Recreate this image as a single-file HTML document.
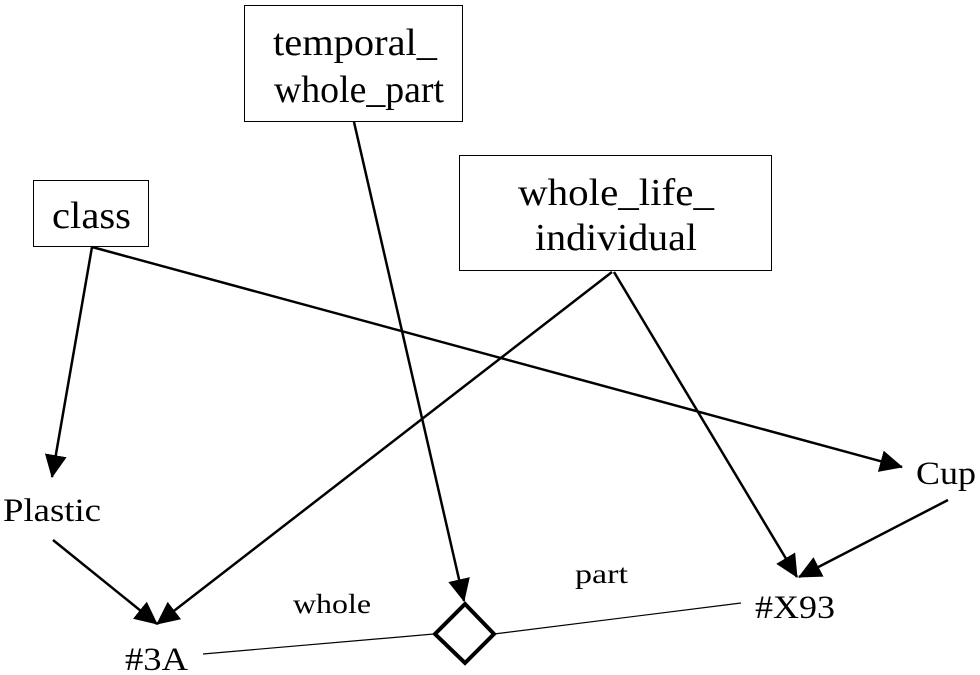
<!DOCTYPE html>
<html><head><style>
html,body{margin:0;padding:0;background:#fff;}
svg{display:block;}
text{font-family:"Liberation Serif",serif;fill:#000;}
</style></head><body>
<svg width="980" height="675" viewBox="0 0 980 675" xmlns="http://www.w3.org/2000/svg">
<defs>
<marker id="a" markerWidth="24" markerHeight="22" refX="22" refY="11" orient="auto" markerUnits="userSpaceOnUse">
<path d="M0,0 L23,11 L0,22 Z" fill="#000"/>
</marker>
</defs>
<rect x="244.5" y="5.5" width="218" height="116" fill="none" stroke="#000" stroke-width="1"/>
<text x="273" y="55" font-size="38" textLength="164" lengthAdjust="spacingAndGlyphs">temporal_</text>
<text x="274" y="102" font-size="38" textLength="170" lengthAdjust="spacingAndGlyphs">whole_part</text>
<rect x="33.5" y="180.5" width="115" height="66" fill="none" stroke="#000" stroke-width="1"/>
<text x="52" y="228" font-size="38" textLength="79" lengthAdjust="spacingAndGlyphs">class</text>
<rect x="459.5" y="155.5" width="312" height="115" fill="none" stroke="#000" stroke-width="1"/>
<text x="518" y="205" font-size="38" textLength="196" lengthAdjust="spacingAndGlyphs">whole_life_</text>
<text x="535" y="250" font-size="38" textLength="162" lengthAdjust="spacingAndGlyphs">individual</text>
<text x="3" y="521" font-size="33" textLength="98" lengthAdjust="spacingAndGlyphs">Plastic</text>
<text x="916" y="484" font-size="33" textLength="60" lengthAdjust="spacingAndGlyphs">Cup</text>
<text x="125" y="670" font-size="33" textLength="63" lengthAdjust="spacingAndGlyphs">#3A</text>
<text x="755" y="618" font-size="33" textLength="80" lengthAdjust="spacingAndGlyphs">#X93</text>
<text x="293" y="613" font-size="27" textLength="78" lengthAdjust="spacingAndGlyphs">whole</text>
<text x="575" y="583" font-size="27" textLength="53" lengthAdjust="spacingAndGlyphs">part</text>
<g stroke="#000" stroke-width="2.5" fill="none">
<line x1="92" y1="247" x2="52" y2="477" marker-end="url(#a)"/>
<line x1="92" y1="247" x2="902" y2="467" marker-end="url(#a)"/>
<line x1="612" y1="272" x2="157" y2="624" marker-end="url(#a)"/>
<line x1="614" y1="272" x2="797" y2="577" marker-end="url(#a)"/>
<line x1="354" y1="122" x2="464" y2="601" marker-end="url(#a)"/>
<line x1="53" y1="540" x2="157" y2="624" marker-end="url(#a)"/>
<line x1="948" y1="500" x2="799" y2="577" marker-end="url(#a)"/>
</g>
<g stroke="#000" stroke-width="1.2">
<line x1="203" y1="654" x2="434" y2="634"/>
<line x1="494" y1="634" x2="741" y2="603"/>
</g>
<path d="M465,604 L494,634 L465,663 L435,634 Z" fill="#fff" stroke="#000" stroke-width="4"/>
</svg>
</body></html>
